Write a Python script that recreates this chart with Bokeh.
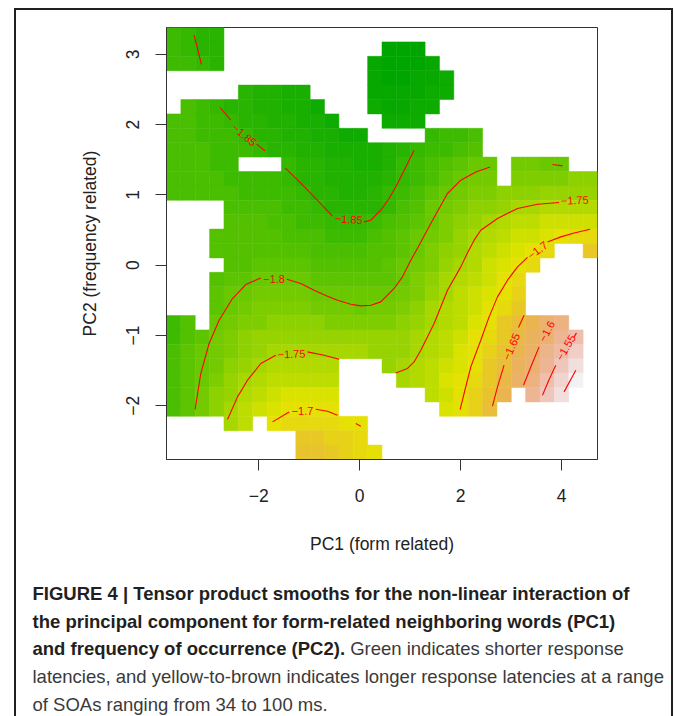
import colorsys
import numpy as np
from bokeh.plotting import figure
from bokeh.layouts import column
from bokeh.models import ColumnDataSource, FixedTicker, Range1d
from bokeh.core.properties import value
from bokeh.embed import file_html
from bokeh.resources import INLINE

# ---------------- data ----------------
# plotted extent of the 30 x 30 prediction grid (PC1 = x, PC2 = y)
pc1_extent = (-3.8295, 4.7136)
pc2_extent = (-2.7639, 3.3812)
n_grid = 30

# fitted values on the grid, row 0 = top (highest PC2), col 0 = left (lowest PC1)
# token NN means  z = -NN/100 ; ".." = too far from data (not drawn)
fit_rows = [
    "84 85 86 86 .. .. .. .. .. .. .. .. .. .. .. .. .. .. .. .. .. .. .. .. .. .. .. .. .. ..",
    "84 85 86 86 .. .. .. .. .. .. .. .. .. .. .. 91 91 91 .. .. .. .. .. .. .. .. .. .. .. ..",
    "84 84 85 86 .. .. .. .. .. .. .. .. .. .. 90 91 91 91 90 .. .. .. .. .. .. .. .. .. .. ..",
    ".. .. .. .. .. .. .. .. .. .. .. .. .. .. 90 91 91 90 90 89 .. .. .. .. .. .. .. .. .. ..",
    ".. .. .. .. .. 86 87 87 88 88 .. .. .. .. 90 90 90 90 89 89 .. .. .. .. .. .. .. .. .. ..",
    ".. 83 84 85 86 86 87 87 88 88 89 .. .. .. 89 90 90 89 89 .. .. .. .. .. .. .. .. .. .. ..",
    "83 83 84 84 85 86 86 87 87 88 88 89 .. .. .. 89 89 89 .. .. .. .. .. .. .. .. .. .. .. ..",
    "83 83 84 84 84 85 86 86 87 87 88 88 89 89 .. .. .. .. 85 84 84 83 .. .. .. .. .. .. .. ..",
    "83 83 83 84 84 84 85 86 86 87 87 88 88 88 88 87 86 85 84 84 83 82 .. .. .. .. .. .. .. ..",
    "83 83 83 84 84 .. .. .. 85 86 86 87 87 88 88 87 85 84 83 82 81 80 80 .. 79 79 80 80 .. ..",
    "83 83 83 83 84 84 84 84 85 86 86 87 87 87 87 86 85 84 83 81 80 79 79 .. 78 78 78 78 77 77",
    "83 83 83 83 83 84 84 84 84 85 86 86 87 87 86 85 84 83 81 80 79 78 78 77 77 77 76 76 76 76",
    ".. .. .. .. 83 83 83 83 84 84 85 86 86 86 86 85 83 82 80 79 78 77 77 76 75 75 74 74 74 74",
    ".. .. .. .. 82 82 82 83 83 84 84 85 85 85 84 83 82 81 80 78 77 76 75 74 73 73 72 72 72 72",
    ".. .. .. 82 82 82 82 82 83 83 83 84 84 84 83 82 81 80 79 78 76 75 74 73 72 72 71 70 69 69",
    ".. .. .. 82 82 82 82 82 82 82 83 83 83 83 82 82 81 80 78 77 76 74 73 72 71 70 69 .. .. 67",
    ".. .. .. .. 82 82 81 81 81 81 82 82 82 82 82 81 80 79 78 76 75 74 72 71 70 69 .. .. .. ..",
    ".. .. .. 82 81 81 80 80 80 80 81 81 81 81 81 81 80 78 77 75 74 73 72 70 69 .. .. .. .. ..",
    ".. .. .. 81 80 80 79 79 79 79 80 80 80 80 80 80 79 78 76 75 73 72 71 70 68 .. .. .. .. ..",
    ".. .. .. 81 80 79 78 78 78 78 79 79 79 80 79 79 78 77 75 74 73 72 70 69 67 .. .. .. .. ..",
    "84 82 .. 80 79 78 78 77 77 77 77 78 78 78 78 78 77 76 75 74 73 71 70 67 65 63 60 59 .. ..",
    "84 82 81 79 78 77 76 76 76 76 76 76 76 76 76 76 76 75 74 73 72 70 69 67 64 62 60 57 55 ..",
    "83 81 80 79 78 77 76 75 75 75 75 75 75 75 76 76 76 75 74 73 71 70 68 66 63 61 58 56 53 ..",
    "83 81 80 79 77 76 75 74 74 74 74 74 .. .. .. 76 75 74 73 72 71 70 67 65 62 60 57 54 51 ..",
    "83 81 80 78 76 75 74 73 73 73 73 73 .. .. .. .. 75 74 73 71 70 69 67 64 61 59 55 52 49 ..",
    "83 81 79 77 76 74 73 72 71 71 71 71 .. .. .. .. .. .. 73 72 70 68 66 63 .. 57 54 51 .. ..",
    "83 81 79 77 75 73 72 71 70 70 70 70 .. .. .. .. .. .. .. 71 70 68 65 .. .. .. .. .. .. ..",
    ".. .. .. .. 75 73 .. 70 69 69 69 69 70 70 .. .. .. .. .. .. .. .. .. .. .. .. .. .. .. ..",
    ".. .. .. .. .. .. .. .. .. 67 67 68 68 69 .. .. .. .. .. .. .. .. .. .. .. .. .. .. .. ..",
    ".. .. .. .. .. .. .. .. .. 66 66 67 68 69 70 .. .. .. .. .. .. .. .. .. .. .. .. .. .. ..",
]

# contour lines, (PC1, PC2) points, one list per drawn piece
contour_185 = [
    [(-3.282, 3.272), (-3.136, 2.855)],
    [(-2.767, 2.243), (-2.555, 2.063)],
    [(-2.040, 1.721), (-1.875, 1.626)],
    [(-1.479, 1.384), (-1.167, 1.166), (-0.850, 0.932), (-0.539, 0.697)],
    [(0.087, 0.616), (0.220, 0.640), (0.418, 0.782), (0.583, 0.949),
     (0.749, 1.162), (0.914, 1.398), (1.078, 1.636)],
]
contour_180 = [
    [(-3.263, -2.053), (-3.150, -1.541), (-2.985, -1.114), (-2.787, -0.782),
     (-2.521, -0.474), (-2.258, -0.275), (-1.960, -0.181)],
    [(-1.445, -0.199), (-1.167, -0.260), (-0.904, -0.356), (-0.638, -0.441),
     (-0.440, -0.498), (-0.176, -0.555), (0.022, -0.579), (0.220, -0.569),
     (0.418, -0.522), (0.682, -0.331), (0.848, -0.166), (1.013, 0.071),
     (1.146, 0.242), (1.409, 0.593), (1.740, 1.020), (2.004, 1.209),
     (2.301, 1.327), (2.585, 1.398)],
    [(3.822, 1.432), (4.020, 1.413)],
]
contour_175 = [
    [(-2.620, -2.195), (-2.422, -1.873), (-2.224, -1.636), (-1.960, -1.398), (-1.663, -1.280)],
    [(-1.035, -1.233), (-0.706, -1.280), (-0.408, -1.337)],
    [(0.716, -1.532), (0.947, -1.469), (1.078, -1.376), (1.211, -1.209),
     (1.475, -0.830), (1.740, -0.356), (2.004, -0.024), (2.143, 0.185),
     (2.268, 0.356), (2.400, 0.498), (2.731, 0.665), (3.128, 0.807),
     (3.524, 0.868), (3.952, 0.892)],
]
contour_170 = [
    [(-1.728, -2.229), (-1.399, -2.087)],
    [(-0.870, -2.048), (-0.638, -2.077), (-0.440, -2.134)],
    [(-0.077, -2.252), (0.022, -2.290)],
    [(1.990, -2.053), (2.069, -1.825), (2.202, -1.447), (2.400, -1.067),
     (2.565, -0.735), (2.731, -0.451), (2.930, -0.213), (3.128, -0.024), (3.326, 0.110)],
    [(3.722, 0.331), (3.986, 0.403), (4.250, 0.459), (4.567, 0.512)],
]
contour_165 = [
    [(2.632, -2.006), (2.731, -1.731), (2.862, -1.422)],
    [(3.148, -0.886), (3.259, -0.711)],
]
contour_160 = [
    [(3.247, -1.707), (3.391, -1.447), (3.556, -1.162)],
]
contour_155 = [
    [(3.623, -1.849), (3.748, -1.636), (3.887, -1.422)],
    [(4.250, -1.020), (4.297, -0.963)],
]
contour_150 = [
    [(4.051, -1.802), (4.283, -1.494)],
]

# contour labels: text, PC1, PC2, angle (deg)
label_text = ["\u22121.85", "\u22121.85", "\u22121.8", "\u22121.75", "\u22121.75",
              "\u22121.7", "\u22121.7", "\u22121.65", "\u22121.6", "\u22121.55"]
label_pc1 = [-2.284, -0.216, -1.697, -1.352, 4.264, -1.134, 3.524, 3.005, 3.709, 4.085]
label_pc2 = [1.853, 0.654, -0.192, -1.262, 0.925, -2.073, 0.213, -1.159, -0.939, -1.171]
label_angle = [-40, -4, 0, 2, 2, 0, 37, 67, 62, 60]

x_ticks = [-2, 0, 2, 4]
y_ticks = [-2, -1, 0, 1, 2, 3]

x_title = "PC1 (form related)"
y_title = "PC2 (frequency related)"

caption_bold = [
    "FIGURE 4 | Tensor product smooths for the non-linear interaction of",
    "the principal component for form-related neighboring words (PC1)",
    "and frequency of occurrence (PC2).",
]
caption_regular_tail = "Green indicates shorter response"
caption_regular = [
    "latencies, and yellow-to-brown indicates longer response latencies at a range",
    "of SOAs ranging from 34 to 100 ms.",
]

# ---------------- palette (R terrain.colors) ----------------
def terrain_colors(n):
    k = n // 2
    h = np.concatenate([np.linspace(4 / 12, 2 / 12, k), np.linspace(2 / 12, 0, n - k + 1)[1:]])
    s = np.concatenate([np.linspace(1, 1, k), np.linspace(1, 0, n - k + 1)[1:]])
    v = np.concatenate([np.linspace(0.65, 0.9, k), np.linspace(0.9, 0.95, n - k + 1)[1:]])
    out = []
    for hh, ss, vv in zip(h, s, v):
        r, g, b = colorsys.hsv_to_rgb(hh, ss, vv)
        out.append("#%02x%02x%02x" % (int(r * 255 + 0.5), int(g * 255 + 0.5), int(b * 255 + 0.5)))
    return out

pal = terrain_colors(100)

dx = (pc1_extent[1] - pc1_extent[0]) / n_grid
dy = (pc2_extent[1] - pc2_extent[0]) / n_grid
xs_c, ys_c, zs = [], [], []
for r, row in enumerate(fit_rows):
    for c, t in enumerate(row.split()):
        if t == "..":
            continue
        xs_c.append(pc1_extent[0] + dx * (c + 0.5))
        ys_c.append(pc2_extent[1] - dy * (r + 0.5))
        zs.append(-int(t) / 100.0)
zs = np.array(zs)
zmin, zmax = zs.min(), zs.max()
idx = np.clip(((zs - zmin) / (zmax - zmin) * 100).astype(int), 0, 99)
cols = [pal[i] for i in idx]
src = ColumnDataSource(dict(x=xs_c, y=ys_c, color=cols))

# ---------------- geometry (page pixels) ----------------
FONT = "Liberation Sans"
BORDER = "#231f20"
OX, OY = 16, 10            # page position of the layout content (inside the outer frame)
W = 655                    # content width (outer frame right edge at 671..673)
FRAME_L, FRAME_T, FRAME_W, FRAME_H = 166 - OX, 27 - OY, 431, 432
BOTTOM_PANEL = 122         # room below the plot frame for the x axis
H_MAIN = FRAME_T + FRAME_H + BOTTOM_PANEL
PAGE_SPLIT = OY + H_MAIN   # page y where the caption figure starts
H_CAP = 716 - PAGE_SPLIT

p = figure(frame_width=FRAME_W, frame_height=FRAME_H,
           min_border_left=FRAME_L, min_border_right=W - FRAME_L - FRAME_W,
           min_border_top=FRAME_T, min_border_bottom=BOTTOM_PANEL,
           x_range=Range1d(*pc1_extent), y_range=Range1d(*pc2_extent),
           output_backend="svg", toolbar_location=None,
           background_fill_color="white", border_fill_color="white")
p.grid.visible = False
p.outline_line_color = "#333333"
p.outline_line_width = 1

p.rect(x="x", y="y", width=dx, height=dy, fill_color="color", line_color="color",
       line_width=0.5, source=src)

def pieces(levels):
    xs, ys = [], []
    for lev in levels:
        for seg in lev:
            xs.append([q_[0] for q_ in seg])
            ys.append([q_[1] for q_ in seg])
    return xs, ys

cxs, cys = pieces([contour_185, contour_180, contour_175, contour_170,
                   contour_165, contour_160, contour_155, contour_150])
p.multi_line(cxs, cys, line_color="#ff0000", line_width=1.1)

p.text(x=label_pc1, y=label_pc2, text=label_text, angle=label_angle, angle_units="deg",
       text_align="center", text_baseline="middle", text_color="#ff0000",
       text_font_size="11px", text_font=value(FONT))

for ax, ticks in ((p.xaxis, x_ticks), (p.yaxis, y_ticks)):
    ax.ticker = FixedTicker(ticks=ticks)
    ax.major_label_overrides = {t: ("\u2212%d" % -t if t < 0 else "%d" % t) for t in ticks}
    ax.minor_tick_line_color = None
    ax.major_tick_in = 0
    ax.major_tick_out = 11
    ax.axis_line_color = "#333333"
    ax.major_tick_line_color = "#333333"
    ax.major_label_text_font = FONT
    ax.major_label_text_font_size = "17.5px"
    ax.major_label_text_color = "#222222"
    ax.axis_label_text_font = FONT
    ax.axis_label_text_font_size = "17.5px"
    ax.axis_label_text_font_style = "normal"
    ax.axis_label_text_color = "#222222"

p.xaxis.axis_label = x_title
p.yaxis.axis_label = y_title
p.xaxis.major_label_standoff = 18
p.xaxis.axis_label_standoff = 29
p.yaxis.major_label_orientation = "vertical"
p.yaxis.major_label_standoff = 16
p.yaxis.axis_label_standoff = 24

# ---------------- caption figure (x, y in page pixels) ----------------
q = figure(width=W, height=H_CAP, x_range=Range1d(OX, OX + W), y_range=Range1d(716, PAGE_SPLIT),
           min_border=0, x_axis_location=None, y_axis_location=None,
           output_backend="svg", toolbar_location=None,
           background_fill_color="white", border_fill_color="white", outline_line_color=None)
q.grid.visible = False

FS = 18.5
line_mid = [593.0 + k * 27.7 for k in range(5)]   # vertical centres of the caption lines
q.text(x=[32] * 3, y=line_mid[:3], text=caption_bold, text_font=value(FONT), text_font_style="bold",
       text_font_size="%.1fpx" % FS, text_color=BORDER, text_baseline="middle", text_align="left")
q.text(x=[32 + 17.17 * FS], y=[line_mid[2]], text=[caption_regular_tail], text_font=value(FONT),
       text_font_size="%.1fpx" % FS, text_color="#3a3a3a", text_baseline="middle", text_align="left")
q.text(x=[32, 32], y=line_mid[3:], text=caption_regular, text_font=value(FONT),
       text_font_size="%.1fpx" % FS, text_color="#3a3a3a", text_baseline="middle", text_align="left")

frame_css = "2px solid %s" % BORDER
layout = column(p, column(q), spacing=0,
                styles={"border-left": frame_css, "border-right": frame_css, "border-top": frame_css,
                        "margin-left": "14px", "margin-top": "8px"})
open("out.html", "w").write(file_html(layout, INLINE))
